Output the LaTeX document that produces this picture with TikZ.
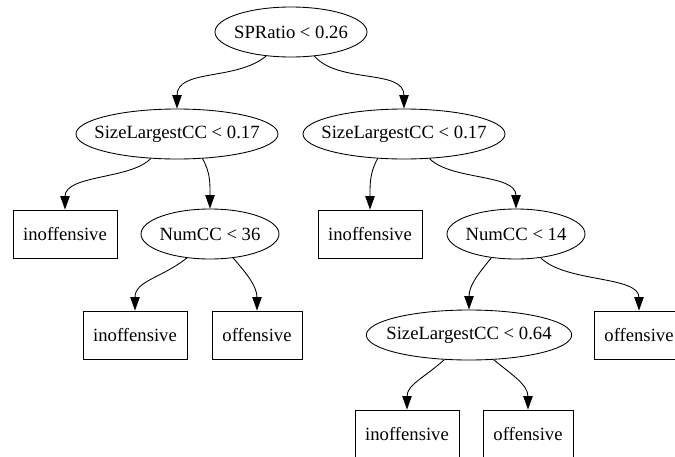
\documentclass[tikz,border=0pt]{standalone}
\usepackage{fontspec}
\setmainfont{Liberation Serif}
\newfontfamily\treefont{Liberation Serif}
\usetikzlibrary{arrows.meta,shapes.geometric}
\begin{document}
\begin{tikzpicture}[x=0.75pt,y=-0.75pt,
  base/.style={draw, line width=0.65pt, inner sep=0pt, font=\treefont\fontsize{14}{16}\selectfont},
  test/.style={base, ellipse, minimum height=37.5pt},
  leaf/.style={base, rectangle, minimum height=36pt},
  edge/.style={line width=0.65pt, -{Triangle[length=10pt,width=7pt]}}]
\useasboundingbox (0,0) rectangle (675,457);
\fill[white] (0,0) rectangle (675,457);
\clip (0,0) rectangle (675,457);

% decision nodes and leaves
\node[test, minimum width=114pt]   (root) at (291,32)  {\makebox[0pt]{SPRatio < 0.26}};
\node[test, minimum width=151.5pt] (l1)   at (177,134) {\makebox[0pt]{SizeLargestCC < 0.17}};
\node[test, minimum width=151.5pt] (r1)   at (404,134) {\makebox[0pt]{SizeLargestCC < 0.17}};
\node[leaf, minimum width=78pt]    (lf1)  at (65,234)  {inoffensive};
\node[test, minimum width=103.5pt] (n36)  at (210,234) {\makebox[0pt]{NumCC < 36}};
\node[leaf, minimum width=78pt]    (lf2)  at (370,234) {inoffensive};
\node[test, minimum width=103.5pt] (n14)  at (516,234) {\makebox[0pt]{NumCC < 14}};
\node[leaf, minimum width=78pt]    (lf3)  at (135,335) {inoffensive};
\node[leaf, minimum width=67.5pt]  (lf4)  at (257,335) {offensive};
\node[test, minimum width=154pt]   (s64)  at (469,335) {\makebox[0pt]{SizeLargestCC < 0.64}};
\node[leaf, minimum width=67.5pt]  (lf5)  at (639,335) {offensive};
\node[leaf, minimum width=78pt]    (lf6)  at (407,434) {inoffensive};
\node[leaf, minimum width=67.5pt]  (lf7)  at (528,434) {offensive};

% branches
\draw[edge] (root.-136) .. controls +(-30,25) and +(0,-40) .. (l1.north);
\draw[edge] (root.-46)  .. controls +(25,28)  and +(0,-40) .. (r1.north);
\draw[edge] (l1.-137)   .. controls +(-20,21) and +(0,-35) .. (lf1.north);
\draw[edge] (l1.-44)    .. controls +(8,14)   and +(0,-25) .. (n36.north);
\draw[edge] (r1.-137)   .. controls +(-8,14)  and +(0,-25) .. (lf2.north);
\draw[edge] (r1.-44)    .. controls +(22,22)  and +(0,-35) .. (n14.north);
\draw[edge] (n36.-134)  .. controls +(-25,20) and +(0,-30) .. (lf3.north);
\draw[edge] (n36.-46)   .. controls +(12,14)  and +(0,-25) .. (lf4.north);
\draw[edge] (n14.-136)  .. controls +(-12,15) and +(0,-25) .. (s64.north);
\draw[edge] (n14.-44)   .. controls +(25,25)  and +(0,-35) .. (lf5.north);
\draw[edge] (s64.-135)  .. controls +(-20,18) and +(0,-25) .. (lf6.north);
\draw[edge] (s64.-45)   .. controls +(18,15)  and +(0,-25) .. (lf7.north);
\end{tikzpicture}
\end{document}
